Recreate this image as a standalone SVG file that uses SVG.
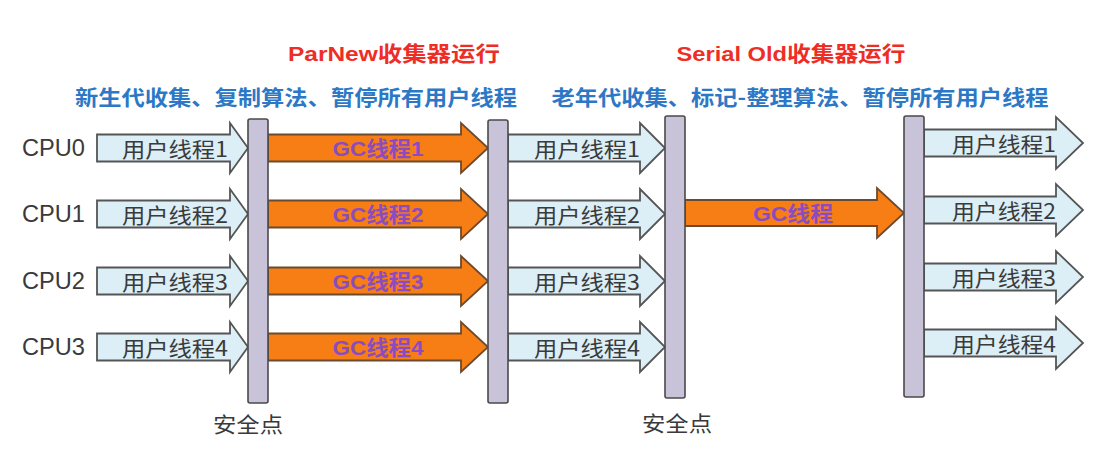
<svg xmlns="http://www.w3.org/2000/svg" width="1105" height="456" viewBox="0 0 1105 456">
<defs>
<style>
.bg{fill:#ffffff}
.bar{fill:#C9C3D9;stroke:#4a4a4a;stroke-width:1.6}
.ua{fill:#DCEEF6;stroke:#555555;stroke-width:1.8;stroke-linejoin:miter}
.ga{fill:#F67E14;stroke:#6b4a2e;stroke-width:1.8;stroke-linejoin:miter}
.cpu{font-family:"Liberation Sans","Noto Sans CJK SC",sans-serif;font-size:23px;fill:#3a3a3a;dominant-baseline:central}
.ut{font-family:"Noto Sans CJK SC","Liberation Sans",sans-serif;font-size:21px;fill:#3a3a3a;dominant-baseline:central;text-anchor:middle}
.gt{font-family:"Liberation Sans","Noto Sans CJK SC",sans-serif;font-size:21px;font-weight:bold;fill:#8A4CC0;dominant-baseline:central;text-anchor:middle}
.red{font-family:"Liberation Sans","Noto Sans CJK SC",sans-serif;font-size:21px;font-weight:bold;fill:#EE2E26;dominant-baseline:central;text-anchor:middle}
.blue{font-family:"Noto Sans CJK SC","Liberation Sans",sans-serif;font-size:21px;font-weight:bold;fill:#2C78C6;dominant-baseline:central;text-anchor:middle}
.safe{font-family:"Noto Sans CJK SC","Liberation Sans",sans-serif;font-size:21px;fill:#3a3a3a;dominant-baseline:central;text-anchor:middle}
</style>
</defs>
<rect class="bg" x="0" y="0" width="1105" height="456"/>

<g id="headers">
<text class="red" x="394" y="53" textLength="212" lengthAdjust="spacingAndGlyphs">ParNew收集器运行</text>
<text class="blue" x="296" y="96" textLength="442" lengthAdjust="spacingAndGlyphs">新生代收集、复制算法、暂停所有用户线程</text>
<text class="red" x="791" y="53" textLength="229" lengthAdjust="spacingAndGlyphs">Serial Old收集器运行</text>
<text class="blue" x="800" y="96" textLength="497" lengthAdjust="spacingAndGlyphs">老年代收集、标记-整理算法、暂停所有用户线程</text>
</g>

<g id="cpu-labels">
<text class="cpu" x="22" y="148" textLength="63" lengthAdjust="spacingAndGlyphs">CPU0</text>
<text class="cpu" x="22" y="214" textLength="63" lengthAdjust="spacingAndGlyphs">CPU1</text>
<text class="cpu" x="22" y="281" textLength="63" lengthAdjust="spacingAndGlyphs">CPU2</text>
<text class="cpu" x="22" y="347" textLength="63" lengthAdjust="spacingAndGlyphs">CPU3</text>
</g>

<g id="connectors">
<g id="u-left-0"><path class="ua" d="M97,134.5 H230 V123 L248,148 L230,173 V161.5 H97 Z"/><text class="ut" x="175" y="148" textLength="106" lengthAdjust="spacingAndGlyphs">用户线程1</text></g>
<g id="u-left-1"><path class="ua" d="M97,200.5 H230 V189 L248,214 L230,239 V227.5 H97 Z"/><text class="ut" x="175" y="214" textLength="106" lengthAdjust="spacingAndGlyphs">用户线程2</text></g>
<g id="u-left-2"><path class="ua" d="M97,267.5 H230 V256 L248,281 L230,306 V294.5 H97 Z"/><text class="ut" x="175" y="281" textLength="106" lengthAdjust="spacingAndGlyphs">用户线程3</text></g>
<g id="u-left-3"><path class="ua" d="M97,333.5 H230 V322 L248,347 L230,372 V360.5 H97 Z"/><text class="ut" x="175" y="347" textLength="106" lengthAdjust="spacingAndGlyphs">用户线程4</text></g>

<g id="gc-0"><path class="ga" d="M268,134.5 H461 V123 L488,148 L461,173 V161.5 H268 Z"/><text class="gt" x="378" y="148" textLength="91" lengthAdjust="spacingAndGlyphs">GC线程1</text></g>
<g id="gc-1"><path class="ga" d="M268,200.5 H461 V189 L488,214 L461,239 V227.5 H268 Z"/><text class="gt" x="378" y="214" textLength="91" lengthAdjust="spacingAndGlyphs">GC线程2</text></g>
<g id="gc-2"><path class="ga" d="M268,267.5 H461 V256 L488,281 L461,306 V294.5 H268 Z"/><text class="gt" x="378" y="281" textLength="91" lengthAdjust="spacingAndGlyphs">GC线程3</text></g>
<g id="gc-3"><path class="ga" d="M268,333.5 H461 V322 L488,347 L461,372 V360.5 H268 Z"/><text class="gt" x="378" y="347" textLength="91" lengthAdjust="spacingAndGlyphs">GC线程4</text></g>

<g id="u-mid-0"><path class="ua" d="M508,134.5 H640 V123 L665,148 L640,173 V161.5 H508 Z"/><text class="ut" x="587" y="148" textLength="106" lengthAdjust="spacingAndGlyphs">用户线程1</text></g>
<g id="u-mid-1"><path class="ua" d="M508,200.5 H640 V189 L665,214 L640,239 V227.5 H508 Z"/><text class="ut" x="587" y="214" textLength="106" lengthAdjust="spacingAndGlyphs">用户线程2</text></g>
<g id="u-mid-2"><path class="ua" d="M508,267.5 H640 V256 L665,281 L640,306 V294.5 H508 Z"/><text class="ut" x="587" y="281" textLength="106" lengthAdjust="spacingAndGlyphs">用户线程3</text></g>
<g id="u-mid-3"><path class="ua" d="M508,333.5 H640 V322 L665,347 L640,372 V360.5 H508 Z"/><text class="ut" x="587" y="347" textLength="106" lengthAdjust="spacingAndGlyphs">用户线程4</text></g>

<g id="gc-serial"><path class="ga" d="M685,200 H877 V188 L904,213 L877,238 V226 H685 Z"/><text class="gt" x="793" y="213" textLength="80" lengthAdjust="spacingAndGlyphs">GC线程</text></g>

<g id="u-right-0"><path class="ua" d="M924,129.5 H1056 V117 L1083,143 L1056,169 V156.5 H924 Z"/><text class="ut" x="1004" y="143" textLength="104" lengthAdjust="spacingAndGlyphs">用户线程1</text></g>
<g id="u-right-1"><path class="ua" d="M924,196.5 H1056 V184 L1083,210 L1056,236 V223.5 H924 Z"/><text class="ut" x="1004" y="210" textLength="104" lengthAdjust="spacingAndGlyphs">用户线程2</text></g>
<g id="u-right-2"><path class="ua" d="M924,263.5 H1056 V251 L1083,277 L1056,303 V290.5 H924 Z"/><text class="ut" x="1004" y="277" textLength="104" lengthAdjust="spacingAndGlyphs">用户线程3</text></g>
<g id="u-right-3"><path class="ua" d="M924,329.5 H1056 V317 L1083,343 L1056,369 V356.5 H924 Z"/><text class="ut" x="1004" y="343" textLength="104" lengthAdjust="spacingAndGlyphs">用户线程4</text></g>
</g>

<g id="bar-1"><rect class="bar" x="248" y="119" width="20" height="284" rx="2"/></g>
<g id="bar-2"><rect class="bar" x="488" y="120" width="20" height="283" rx="2"/></g>
<g id="bar-3"><rect class="bar" x="665" y="116" width="20" height="282" rx="2"/></g>
<g id="bar-4"><rect class="bar" x="904" y="116" width="20" height="281" rx="2"/></g>

<g id="safepoint-1"><text class="safe" x="248" y="423" textLength="70" lengthAdjust="spacingAndGlyphs">安全点</text></g>
<g id="safepoint-2"><text class="safe" x="677" y="422" textLength="70" lengthAdjust="spacingAndGlyphs">安全点</text></g>
</svg>
